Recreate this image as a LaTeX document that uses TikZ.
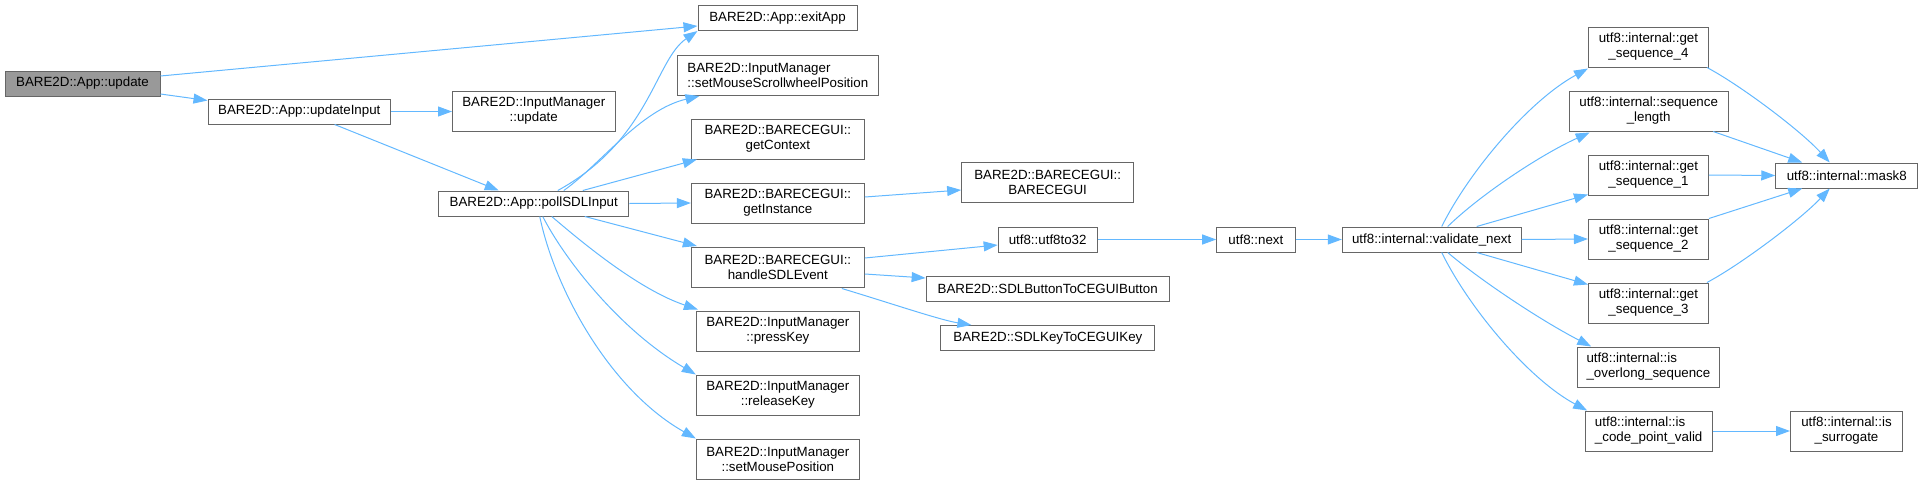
\documentclass[tikz,border=0pt]{standalone}
\usepackage{fontspec}
\setmainfont{Liberation Sans}
\usetikzlibrary{arrows.meta,calc}
\definecolor{edgec}{HTML}{63B8FF}
\definecolor{bordc}{HTML}{666666}
\definecolor{rootc}{HTML}{999999}
\begin{document}
\begin{tikzpicture}[x=1pt,y=-1pt,
  box/.style={draw=bordc, fill=white, line width=1pt, inner sep=0pt, align=center,
    font=\fontsize{13.33}{15}\selectfont, text=black},
  rootbox/.style={box, fill=rootc},
  edge/.style={draw=edgec, line width=1pt, -{Triangle[length=14pt,width=10pt]}}]
\useasboundingbox (0,0) rectangle (1923,485);

% nodes
\node[rootbox, minimum width=155pt, minimum height=25pt] (update) at (82.5,83.5) {BARE2D::App::update};
\node[box, minimum width=182.6pt, minimum height=25pt] (updIn) at (299.3,111.5) {BARE2D::App::updateInput};
\node[box, minimum width=162.5pt, minimum height=40pt] (imupd) at (533.75,111) {BARE2D::InputManager\\::update};
\node[box, minimum width=190.3pt, minimum height=25pt] (poll) at (533.75,203.5) {BARE2D::App::pollSDLInput};

\node[box, minimum width=159pt, minimum height=25pt] (exitApp) at (777.5,18) {BARE2D::App::exitApp};
\node[box, align=left, minimum width=201.7pt, minimum height=40pt] (scroll) at (777.85,75.5) {BARE2D::InputManager\\::setMouseScrollwheelPosition};
\node[box, minimum width=173pt, minimum height=40pt] (getCtx) at (777.85,139) {BARE2D::BARECEGUI::\\getContext};
\node[box, minimum width=173pt, minimum height=40pt] (getInst) at (777.85,203) {BARE2D::BARECEGUI::\\getInstance};
\node[box, minimum width=173pt, minimum height=40pt] (handle) at (777.85,267.5) {BARE2D::BARECEGUI::\\handleSDLEvent};
\node[box, minimum width=163pt, minimum height=40pt] (press) at (777.85,331) {BARE2D::InputManager\\::pressKey};
\node[box, minimum width=163pt, minimum height=40pt] (release) at (777.85,395) {BARE2D::InputManager\\::releaseKey};
\node[box, minimum width=163pt, minimum height=40pt] (mousepos) at (777.85,459) {BARE2D::InputManager\\::setMousePosition};

\node[box, minimum width=172pt, minimum height=40pt] (ctor) at (1047.65,182) {BARE2D::BARECEGUI::\\BARECEGUI};
\node[box, minimum width=99pt, minimum height=25pt] (to32) at (1047.65,239.5) {utf8::utf8to32};
\node[box, minimum width=243pt, minimum height=25pt] (sdlbtn) at (1047.65,288.5) {BARE2D::SDLButtonToCEGUIButton};
\node[box, minimum width=214pt, minimum height=25pt] (sdlkey) at (1047.9,338) {BARE2D::SDLKeyToCEGUIKey};

\node[box, minimum width=78.3pt, minimum height=25pt] (next) at (1255.85,239.5) {utf8::next};
\node[box, minimum width=178.8pt, minimum height=25pt] (valid) at (1431.7,239.5) {utf8::internal::validate\_next};

\node[box, minimum width=120pt, minimum height=40pt] (gs4) at (1648.45,47) {utf8::internal::get\\\_sequence\_4};
\node[box, minimum width=159pt, minimum height=40pt] (seqlen) at (1648.65,111) {utf8::internal::sequence\\\_length};
\node[box, minimum width=120pt, minimum height=40pt] (gs1) at (1648.45,175) {utf8::internal::get\\\_sequence\_1};
\node[box, minimum width=120pt, minimum height=40pt] (gs2) at (1648.45,239) {utf8::internal::get\\\_sequence\_2};
\node[box, minimum width=120pt, minimum height=40pt] (gs3) at (1648.45,303) {utf8::internal::get\\\_sequence\_3};
\node[box, align=left, minimum width=141.5pt, minimum height=40pt] (overlong) at (1648.45,367) {utf8::internal::is\\\_overlong\_sequence};
\node[box, align=left, minimum width=127pt, minimum height=40pt] (cpvalid) at (1648.65,431) {utf8::internal::is\\\_code\_point\_valid};

\node[box, minimum width=142pt, minimum height=25pt] (mask8) at (1846.75,175.5) {utf8::internal::mask8};
\node[box, minimum width=112pt, minimum height=40pt] (surr) at (1846.5,431) {utf8::internal::is\\\_surrogate};

% edges
\draw[edge] ($(update.east)+(0,-7.5)$) -- ($(exitApp.west)+(0,8)$);
\draw[edge] ($(update.east)+(0,10.5)$) -- ($(updIn.west)+(0,-11)$);
\draw[edge] (updIn.east) -- (imupd.west |- updIn.east);
\draw[edge] ($(updIn.south)+(35.3,0)$) -- ($(poll.north)+(-35,0)$);

\draw[edge] ($(poll.north)+(24,0)$) .. controls (650,140) and (655,60) .. (exitApp.south west);
\draw[edge] ($(poll.north)+(30,0)$) .. controls (600,165) and (640,110) .. ($(scroll.south west)+(23,0)$);
\draw[edge] ($(poll.north)+(49,0)$) -- ($(getCtx.south west)+(6,0)$);
\draw[edge] (poll.east) -- (getInst.west);
\draw[edge] ($(poll.south)+(51,0)$) -- ($(handle.north west)+(6,-1)$);
\draw[edge] ($(poll.south)+(18,0)$) .. controls (585,245) and (640,290) .. ($(press.north west)+(2,-1)$);
\draw[edge] ($(poll.south)+(9,0)$) .. controls (565,260) and (620,330) .. (release.north west);
\draw[edge] ($(poll.south)+(6,0)$) .. controls (555,290) and (610,390) .. (mousepos.north west);

\draw[edge] ($(getInst.east)+(0,-6)$) -- ($(ctor.west)+(0,8)$);
\draw[edge] ($(handle.east)+(0,-9.5)$) -- ($(to32.west)+(0,5.5)$);
\draw[edge] ($(handle.east)+(0,6.5)$) -- ($(sdlbtn.west)+(0,-10.5)$);
\draw[edge] ($(handle.south)+(64,0.5)$) .. controls (890,303) and (940,320) .. ($(sdlkey.north west)+(31,0)$);

\draw[edge] (to32.east) -- (next.west);
\draw[edge] (next.east) -- (valid.west);

\draw[edge] ($(valid.north)+(10,0)$) .. controls (1470,170) and (1530,100) .. ($(gs4.south west)+(0,1)$);
\draw[edge] ($(valid.north)+(16,0)$) .. controls (1480,195) and (1540,155) .. ($(seqlen.south west)+(21,1)$);
\draw[edge] ($(valid.north)+(45,0)$) -- ($(gs1.south west)+(0,-1)$);
\draw[edge] (valid.east) -- (gs2.west);
\draw[edge] ($(valid.south)+(45,0)$) -- ($(gs3.north west)+(0,2)$);
\draw[edge] ($(valid.south)+(16,0)$) .. controls (1480,280) and (1540,320) .. ($(overlong.north west)+(14,0)$);
\draw[edge] ($(valid.south)+(10,0)$) .. controls (1470,310) and (1530,380) .. ($(cpvalid.north west)+(2.5,0)$);

\draw[edge] ($(gs4.south east)+(-2,0)$) .. controls (1740,85) and (1800,130) .. ($(mask8.north)+(-17,0)$);
\draw[edge] ($(seqlen.south east)+(-15.5,0)$) -- ($(mask8.north west)+(27,0)$);
\draw[edge] (gs1.east) -- (mask8.west);
\draw[edge] (gs2.north east) -- ($(mask8.south west)+(27,0)$);
\draw[edge] ($(gs3.north east)+(-2,0)$) .. controls (1740,265) and (1800,220) .. ($(mask8.south)+(-17,0)$);
\draw[edge] (cpvalid.east) -- (surr.west);
\end{tikzpicture}
\end{document}
